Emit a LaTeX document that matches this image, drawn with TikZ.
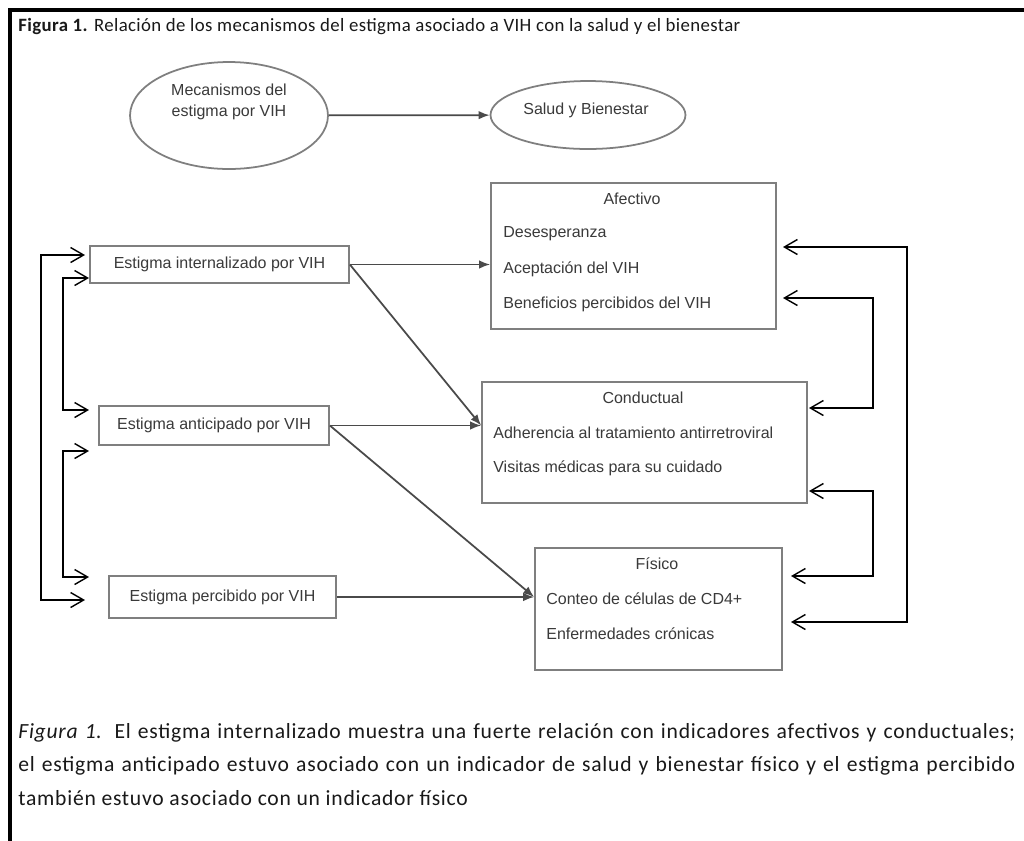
\documentclass[tikz,border=0pt]{standalone}
\usepackage{fontspec}
\setmainfont{Liberation Sans}
\newfontfamily\calibri[LetterSpace=2]{Carlito}
\newfontfamily\calibripie[LetterSpace=3.5]{Carlito}
\usetikzlibrary{shapes.geometric,arrows.meta}

\definecolor{caja}{HTML}{7F7F7F}
\definecolor{texto}{HTML}{3A3A3A}
\definecolor{linea}{HTML}{4A4A4A}

\begin{document}
\begin{tikzpicture}[x=0.02cm,y=-0.02cm]
        \useasboundingbox (0,0) rectangle (1024,840);
        \fill[white] (0,0) rectangle (1024,840);
        \draw[line width=2.3pt] (10,842) -- (10,10) -- (1026,10);
        % titulo y pie
        \begin{scope}[every node/.style={anchor=west, inner sep=0pt, text=black!90}]
                \node[font=\calibri\fontsize{10.7}{13}\selectfont] (titulo) at (18,27) {\textbf{Figura 1.} Relación de los mecanismos del estigma asociado a VIH con la salud y el bienestar};
                \node[font=\calibripie\fontsize{12.3}{14}\selectfont] (pie1) at (18,733) {\makebox[19.94cm][s]{\textit{Figura 1.} El estigma internalizado muestra una fuerte relación con indicadores afectivos y conductuales;}};
                \node[font=\calibripie\fontsize{12.3}{14}\selectfont] (pie2) at (18,766) {\makebox[19.94cm][s]{el estigma anticipado estuvo asociado con un indicador de salud y bienestar físico y el estigma percibido}};
                \node[font=\calibripie\fontsize{12.3}{14}\selectfont] (pie3) at (18,798) {también estuvo asociado con un indicador físico};
        \end{scope}
        % elipses y cajas
        \begin{scope}[every node/.style={draw=caja, line width=1pt, inner sep=0pt, text=texto, font=\fontsize{9.1}{12}\selectfont}]
                \node[ellipse, minimum width=3.96cm, minimum height=2.14cm] (mec) at (229,115.5) {};
                \node[ellipse, minimum width=3.9cm, minimum height=1.36cm] (sal) at (588,115) {};
                \node[minimum width=5.18cm, minimum height=0.74cm] (inter) at (219.5,264.5) {Estigma internalizado por VIH};
                \node[minimum width=4.6cm, minimum height=0.78cm] (anti) at (214,425.5) {Estigma anticipado por VIH};
                \node[minimum width=4.54cm, minimum height=0.84cm] (perc) at (222.5,597) {Estigma percibido por VIH};
                \node[minimum width=5.7cm, minimum height=2.92cm] (afec) at (633.5,256) {};
                \node[minimum width=6.5cm, minimum height=2.42cm] (cond) at (644.5,442.5) {};
                \node[minimum width=4.94cm, minimum height=2.44cm] (fis) at (658.5,609) {};
        \end{scope}
        \begin{scope}[every node/.style={inner sep=0pt, text=texto, font=\fontsize{9.1}{12}\selectfont}]
                \node[align=center] (mec-t) at (229,102) {Mecanismos del\\estigma por VIH};
                \node (sal-t) at (586,110) {Salud y Bienestar};
                \node (afec-t) at (632,199) {Afectivo};
                \node[anchor=west] (afec-1) at (503,234) {Desesperanza};
                \node[anchor=west] (afec-2) at (503,269) {Aceptación del VIH};
                \node[anchor=west] (afec-3) at (503,304) {Beneficios percibidos del VIH};
                \node (cond-t) at (643,398) {Conductual};
                \node[anchor=west] (cond-1) at (493,433) {Adherencia al tratamiento antirretroviral};
                \node[anchor=west] (cond-2) at (493,468) {Visitas médicas para su cuidado};
                \node (fis-t) at (657,564) {Físico};
                \node[anchor=west] (fis-1) at (546,599) {Conteo de células de CD4+};
                \node[anchor=west] (fis-2) at (546,634) {Enfermedades crónicas};
        \end{scope}
        % puntas de los lazos
        \coordinate (iz1) at (85,255);
        \coordinate (iz2) at (85,600);
        \coordinate (iz3) at (89,278);
        \coordinate (iz4) at (89,410);
        \coordinate (iz5) at (89,451);
        \coordinate (iz6) at (89,577);
        \coordinate (de1) at (783,247);
        \coordinate (de2) at (791,622);
        \coordinate (de3) at (783,298);
        \coordinate (de4) at (809,408);
        \coordinate (de5) at (809,491);
        \coordinate (de6) at (791,576);
        \begin{scope}[every path/.style={line width=1pt, linea, -{Latex[length=2.2mm,width=1.7mm]}}]
                \path (mec) edge (sal);
                \path (inter.east) edge (inter.east -| afec.west);
                \path (inter.east) edge (cond.west |- anti.east);
                \path (anti.east) edge (cond.west |- anti.east);
                \path (anti.east) edge (fis.west |- perc.east);
                \path (perc.east) edge (fis.west |- perc.east);
        \end{scope}
        \begin{scope}[every path/.style={line width=0.8pt, black, {Straight Barb[length=2.6mm,width=3mm]}-{Straight Barb[length=2.6mm,width=3mm]}}]
                \draw (iz1) -- ++(-44,0) |- (iz2);
                \draw (iz3) -- ++(-26,0) |- (iz4);
                \draw (iz5) -- ++(-26,0) |- (iz6);
                \draw (de1) -- ++(124,0) |- (de2);
                \draw (de3) -- ++(90,0) |- (de4);
                \draw (de5) -- ++(64,0) |- (de6);
        \end{scope}
\end{tikzpicture}
\end{document}
